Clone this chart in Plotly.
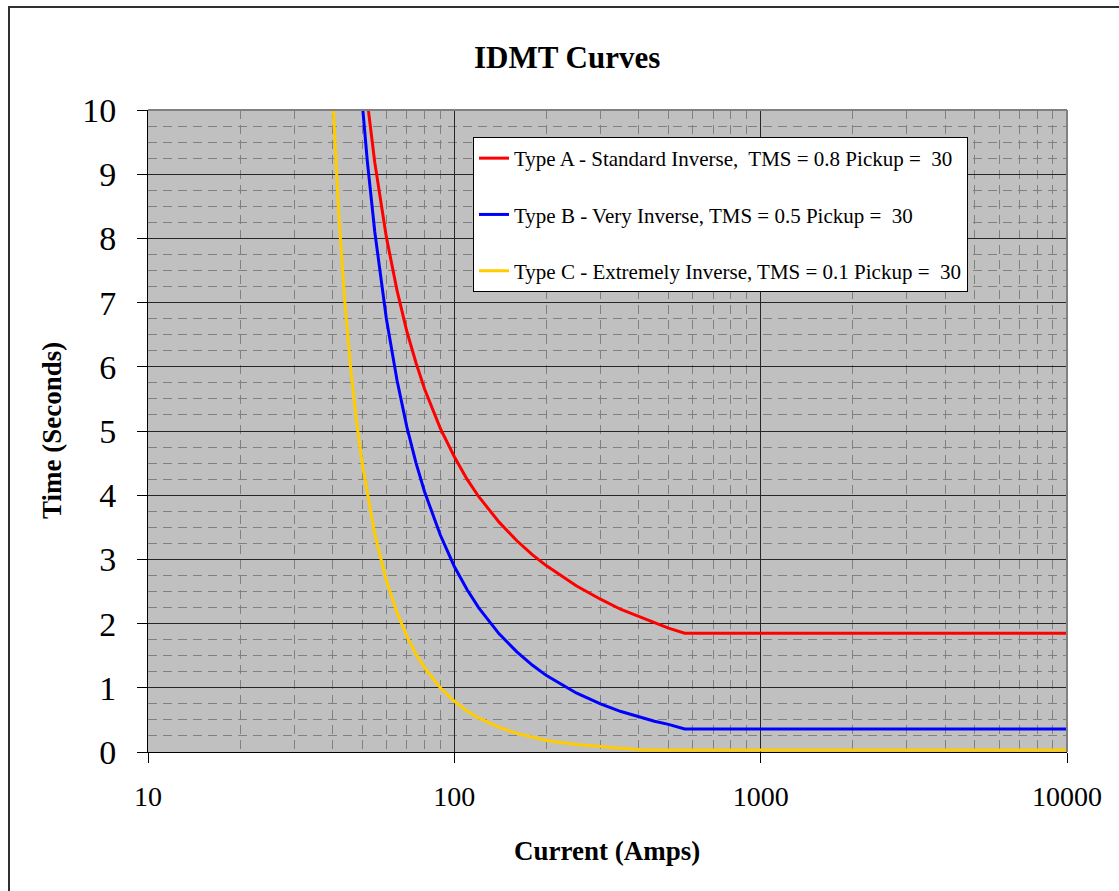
import plotly.graph_objects as go

# Relay operating times (seconds) against fault current (amps)
current_a = [40, 45, 50, 52, 55, 58, 60, 65, 70, 75, 80, 90, 100, 110, 120, 140, 160,
             180, 200, 250, 300, 350, 400, 450, 500, 565, 1000, 3000, 10000]
time_a = [16.0, 12.5, 10.9, 10.13, 9.18, 8.45, 8.02, 7.19, 6.55, 6.06, 5.65, 5.04, 4.60,
          4.25, 3.98, 3.58, 3.29, 3.07, 2.90, 2.59, 2.38, 2.22, 2.11, 2.01, 1.93, 1.85,
          1.85, 1.85, 1.85]

current_b = [45, 48, 50, 52, 55, 58, 60, 65, 70, 75, 80, 90, 100, 110, 120, 140, 160,
             180, 200, 250, 300, 350, 400, 450, 500, 565, 1000, 3000, 10000]
time_b = [13.5, 11.25, 10.13, 9.20, 8.10, 7.23, 6.75, 5.79, 5.06, 4.50, 4.05, 3.38, 2.89,
          2.53, 2.25, 1.84, 1.56, 1.35, 1.19, 0.92, 0.75, 0.63, 0.55, 0.48, 0.43, 0.36,
          0.36, 0.36, 0.36]

current_c = [39, 40, 42, 44, 46, 48, 50, 55, 60, 65, 70, 75, 80, 90, 100, 110, 120, 140,
             160, 180, 200, 250, 300, 350, 420, 1000, 3000, 10000]
time_c = [12.0, 10.29, 8.33, 6.95, 5.92, 5.13, 4.50, 3.39, 2.67, 2.17, 1.80, 1.52, 1.31,
          1.00, 0.79, 0.64, 0.53, 0.385, 0.29, 0.23, 0.18, 0.117, 0.081, 0.059, 0.03,
          0.03, 0.03, 0.03]

series_names = [
    "Type A - Standard Inverse,  TMS = 0.8 Pickup =  30",
    "Type B - Very Inverse, TMS = 0.5 Pickup =  30",
    "Type C - Extremely Inverse, TMS = 0.1 Pickup =  30",
]
series_colors = ["#FF0000", "#0000FF", "#FFCC00"]

x_ticks = [10, 100, 1000, 10000]
x_tick_text = ["10", "100", "1000", "10000"]
x_minor = [m * d for d in (10, 100, 1000) for m in range(2, 10)]
y_ticks = list(range(0, 11))

SERIF = "Liberation Serif, Times New Roman, serif"

fig = go.Figure()
for i, (xs, ys) in enumerate([(current_a, time_a), (current_b, time_b), (current_c, time_c)]):
    fig.add_trace(go.Scatter(
        x=xs, y=ys, mode="lines", name=series_names[i], legendgroup=str(i),
        line=dict(color=series_colors[i], width=3),
    ))

# plot-area geometry in pixels
L, R, T, B = 148, 1067, 110, 752
W, H = R - L, B - T


def px_x(p):
    return (p - L) / W


def px_y(p):
    return (B - p) / H


fig.update_layout(
    width=1119, height=891,
    margin=dict(l=L, r=1119 - R, t=T, b=891 - B),
    paper_bgcolor="white",
    plot_bgcolor="#C0C0C0",
    font=dict(family=SERIF, color="black"),
    showlegend=True,
    legend=dict(
        x=px_x(473), y=px_y(137), xanchor="left", yanchor="top",
        bgcolor="white", bordercolor="black", borderwidth=1,
        font=dict(family=SERIF, size=21, color="black"),
        tracegroupgap=26,
    ),
    xaxis=dict(
        type="log", range=[1, 4],
        tickvals=x_ticks, ticktext=x_tick_text,
        ticks="outside", ticklen=10, tickcolor="black", tickwidth=1,
        tickfont=dict(size=28, family=SERIF),
        ticklabelstandoff=9,
        showline=True, linecolor="black", linewidth=1,
        showgrid=True, gridcolor="#262626", gridwidth=1,
        minor=dict(tickvals=x_minor, showgrid=True, gridcolor="#808080",
                   griddash="9px,6px", gridwidth=1, ticks=""),
        zeroline=False,
    ),
    yaxis=dict(
        range=[0, 10], tickvals=y_ticks,
        ticks="outside", ticklen=10, tickcolor="black", tickwidth=1,
        tickfont=dict(size=34, family=SERIF),
        ticklabelstandoff=14,
        showline=True, linecolor="black", linewidth=1,
        showgrid=True, gridcolor="#262626", gridwidth=1,
        minor=dict(dtick=0.25, showgrid=True, gridcolor="#808080",
                   griddash="9px,6px", gridwidth=1, ticks=""),
        zeroline=False,
    ),
    annotations=[
        dict(text="<b>IDMT Curves</b>", xref="paper", yref="paper",
             x=px_x(567), y=px_y(57), xanchor="center", yanchor="middle",
             showarrow=False, font=dict(size=31, family=SERIF)),
        dict(text="<b>Time (Seconds)</b>", xref="paper", yref="paper",
             x=px_x(52), y=px_y(431), xanchor="center", yanchor="middle",
             textangle=-90, showarrow=False, font=dict(size=27, family=SERIF)),
        dict(text="<b>Current (Amps)</b>", xref="paper", yref="paper",
             x=px_x(607), y=px_y(851), xanchor="center", yanchor="middle",
             showarrow=False, font=dict(size=27, family=SERIF)),
    ],
    shapes=[
        # plot-area frame on the top and right edges
        dict(type="line", xref="paper", yref="paper", x0=0, x1=1, y0=1, y1=1,
             line=dict(color="#808080", width=2), layer="above"),
        dict(type="line", xref="paper", yref="paper", x0=1, x1=1, y0=0, y1=1,
             line=dict(color="#808080", width=2), layer="above"),
        # chart-area border
        dict(type="rect", xref="paper", yref="paper",
             x0=px_x(9), x1=px_x(1130), y0=px_y(900), y1=px_y(7),
             line=dict(color="#303030", width=2), fillcolor="rgba(0,0,0,0)",
             layer="below"),
    ],
)

fig.write_html("out.html")
